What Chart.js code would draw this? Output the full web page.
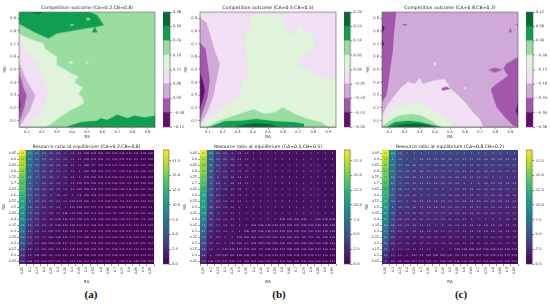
<!DOCTYPE html>
<html>
<head>
<meta charset="utf-8">
<script src="https://cdn.jsdelivr.net/npm/chart.js@4"></script>
<style>
  html, body { margin: 0; padding: 0; background: #fff; width: 550px; height: 305px; overflow: hidden; }
  canvas { position: absolute; filter: blur(0.35px); }
  .cap { position: absolute; top: 288px; font: bold 11px "Liberation Serif", serif; color: #111; transform: translateX(-50%); }
</style>
</head>
<body>
<div class="cap" style="left:91px">(a)</div>
<div class="cap" style="left:279px">(b)</div>
<div class="cap" style="left:461px">(c)</div>
<script>
const titlesTop = ['Competition outcome (CA=0.2,CB=0.8)', 'Competition outcome (CA=0.5,CB=0.5)', 'Competition outcome (CA=0.8,CB=0.2)'];
const titlesBottom = ['Resource ratio at equilibrium (CA=0.2,CB=0.8)', 'Resource ratio at equilibrium (CA=0.5,CB=0.5)', 'Resource ratio at equilibrium (CA=0.8,CB=0.2)'];
const axisTicks = [0.1, 0.2, 0.3, 0.4, 0.5, 0.6, 0.7, 0.8, 0.9];
const colsRA = ['0.05','0.1','0.15','0.2','0.25','0.3','0.35','0.4','0.45','0.5','0.55','0.6','0.65','0.7','0.75','0.8','0.85','0.9','0.95'];
const rowsRB = ['0.95','0.9','0.85','0.8','0.75','0.7','0.65','0.6','0.55','0.5','0.45','0.4','0.35','0.3','0.25','0.2','0.15','0.1','0.05'];

// PRGn-like bands, lowest level first
const bandColors = ['#650c70', '#a257ad', '#cfa9d7', '#f1dff3', '#e0f4dc', '#99dda1', '#109f50', '#056a30'];
const levelsA = [-0.12, -0.06, 0, 0.06, 0.12, 0.18, 0.24, 0.30, 0.36];
const levelsB = [-0.20, -0.15, -0.10, -0.05, 0, 0.05, 0.10, 0.15, 0.20];
const levelsC = [-0.36, -0.30, -0.24, -0.18, -0.12, -0.06, 0, 0.06, 0.12];
const heatTicks = [0, 2.5, 5, 7.5, 10, 12.5, 15, 17.5];
const heatMax = 19.3;

// contour regions: [band, outline in RA,RB], later ones paint over earlier ones
const contourA = [
  [5, [[.05,.05],[.05,.95],[.95,.95],[.95,.05]]],
  [6, [[.05,.95],[.05,.86],[.144,.796],[.244,.743],[.3,.782],[.433,.809],[.567,.835],[.611,.848],[.589,.887],[.567,.927],[.522,.95]]],
  [7, [[.12,.95],[.17,.935],[.22,.95]]],
  [6, [[.533,.79],[.551,.84],[.569,.79]]],
  [5, [[.385,.85],[.4,.858],[.415,.85],[.4,.84]]],
  [5, [[.49,.895],[.505,.91],[.525,.895],[.505,.882]]],
  [6, [[.36,.05],[.456,.087],[.567,.1],[.589,.12],[.633,.105],[.7,.147],[.767,.12],[.811,.139],[.878,.125],[.95,.139],[.95,.05]]],
  [4, [[.05,.78],[.144,.73],[.211,.704],[.222,.664],[.3,.599],[.3,.533],[.344,.507],[.4,.467],[.444,.446],[.416,.402],[.473,.357],[.444,.31],[.473,.271],[.478,.231],[.389,.179],[.322,.126],[.256,.069],[.222,.05],[.05,.05]]],
  [4, [[.375,.555],[.393,.568],[.41,.555],[.393,.542]]],
  [4, [[.49,.555],[.5,.565],[.51,.555],[.5,.545]]],
  [3, [[.05,.73],[.167,.546],[.211,.441],[.244,.336],[.222,.231],[.178,.139],[.089,.05],[.05,.05]]],
  [2, [[.05,.56],[.089,.44],[.156,.297],[.122,.179],[.078,.1],[.05,.05]]],
  [1, [[.05,.483],[.078,.362],[.1,.297],[.084,.205],[.067,.139],[.05,.09]]],
  [0, [[.05,.31],[.06,.23],[.05,.14]]]
];
const contourB = [
  [3, [[.05,.05],[.05,.95],[.95,.95],[.95,.05]]],
  [4, [[.05,.05],[.082,.087],[.148,.152],[.236,.23],[.313,.308],[.329,.413],[.368,.433],[.364,.569],[.346,.699],[.351,.777],[.39,.829],[.373,.907],[.423,.933],[.566,.933],[.6,.907],[.61,.842],[.636,.777],[.687,.79],[.709,.86],[.731,.79],[.775,.803],[.775,.855],[.797,.751],[.819,.686],[.72,.608],[.698,.556],[.72,.517],[.797,.478],[.874,.433],[.95,.418],[.95,.05]]],
  [5, [[.09,.05],[.17,.095],[.28,.14],[.39,.183],[.401,.191],[.478,.152],[.544,.165],[.599,.204],[.676,.152],[.764,.113],[.852,.087],[.9,.05]]],
  [6, [[.115,.05],[.214,.095],[.324,.1],[.423,.113],[.544,.095],[.676,.087],[.737,.075],[.74,.05]]],
  [7, [[.28,.05],[.346,.069],[.423,.08],[.522,.069],[.566,.05]]],
  [2, [[.05,.907],[.093,.868],[.116,.777],[.148,.647],[.181,.543],[.159,.413],[.137,.282],[.093,.152],[.06,.087],[.05,.05]]],
  [1, [[.05,.712],[.087,.66],[.104,.517],[.115,.413],[.1,.282],[.06,.139],[.05,.1]]],
  [0, [[.05,.478],[.071,.4],[.082,.334],[.065,.243],[.05,.19]]]
];
const contourC = [
  [2, [[.05,.05],[.05,.95],[.95,.95],[.95,.05]]],
  [1, [[.05,.95],[.144,.95],[.129,.781],[.122,.65],[.1,.466],[.089,.362],[.078,.296],[.05,.244]]],
  [0, [[.05,.85],[.068,.83],[.05,.78]]],
  [0, [[.05,.74],[.063,.7],[.05,.67]]],
  [1, [[.95,.597],[.874,.545],[.852,.506],[.885,.453],[.808,.388],[.77,.349],[.786,.283],[.808,.205],[.863,.126],[.919,.06],[.95,.05]]],
  [0, [[.95,.24],[.935,.18],[.95,.13]]],
  [1, [[.753,.498],[.797,.514],[.846,.498],[.797,.477]]],
  [1, [[.18,.851],[.2,.858],[.222,.851],[.2,.844]]],
  [1, [[.89,.79],[.9,.83],[.91,.79]]],
  [1, [[.925,.851],[.95,.855],[.95,.846]]],
  [3, [[.05,.14],[.089,.23],[.178,.362],[.222,.406],[.266,.388],[.3,.435],[.32,.388],[.387,.414],[.465,.427],[.505,.35],[.553,.3],[.609,.231],[.653,.165],[.697,.113],[.72,.05],[.05,.05]]],
  [1, [[.443,.354],[.475,.365],[.505,.35],[.45,.335]]],
  [3, [[.59,.354],[.6,.366],[.61,.354],[.6,.342]]],
  [3, [[.39,.545],[.4,.56],[.41,.545],[.4,.53]]],
  [4, [[.05,.09],[.11,.18],[.178,.218],[.288,.244],[.354,.205],[.443,.152],[.498,.087],[.53,.05],[.05,.05]]],
  [5, [[.05,.055],[.09,.087],[.155,.139],[.244,.152],[.31,.139],[.376,.1],[.432,.053],[.44,.05],[.05,.05]]],
  [6, [[.08,.05],[.133,.087],[.222,.1],[.31,.087],[.4,.06],[.454,.05]]],
  [7, [[.1,.05],[.177,.07],[.266,.08],[.354,.065],[.41,.05]]]
];

// heatmap values, top row (RB 0.95) first
const heatA = [
  [19,8.3,5.5,3.9,3.1,2.5,2,1.5,1.2,.99,.75,.61,.51,.43,.38,.34,.31,.28,.26],
  [17,7.5,5.1,3.7,2.9,2.3,1.9,1.4,1.1,.93,.72,.59,.5,.42,.37,.33,.3,.27,.25],
  [17,7.3,4.8,3.5,2.8,2.2,1.8,1.3,1.1,.88,.7,.57,.48,.41,.36,.32,.29,.27,.25],
  [16,7,4.5,3.3,2.6,2.1,1.7,1.3,1,.84,.67,.55,.47,.4,.35,.32,.29,.26,.24],
  [15,6.6,4.3,3.1,2.5,2,1.6,1.2,1,.78,.63,.52,.45,.38,.34,.31,.28,.26,.23],
  [14,6,4,2.9,2.3,1.8,1.4,1.1,.95,.73,.59,.49,.42,.36,.33,.3,.27,.25,.23],
  [14,5.8,3.8,2.8,2.2,1.7,1.3,1.1,.87,.69,.56,.47,.41,.35,.32,.29,.26,.24,.22],
  [13,5.4,3.5,2.6,2,1.6,1.2,1,.8,.65,.53,.45,.39,.34,.31,.28,.25,.23,.21],
  [12,5,3.3,2.4,1.9,1.4,1.1,.93,.75,.61,.5,.43,.37,.33,.3,.27,.25,.23,.21],
  [11,4.6,3.1,2.2,1.7,1.3,1,.87,.69,.57,.47,.41,.36,.32,.29,.26,.24,.22,.2],
  [10,4.3,2.8,2,1.5,1.1,.96,.78,.63,.52,.44,.38,.33,.3,.27,.25,.23,.21,.19],
  [9.2,3.9,2.5,1.8,1.3,.99,.83,.71,.58,.48,.41,.36,.32,.28,.26,.24,.22,.2,.18],
  [8.2,3.5,2.2,1.6,1.1,.88,.73,.62,.52,.44,.38,.33,.3,.27,.24,.22,.21,.19,.18],
  [7.2,3.1,1.9,1.3,.97,.77,.64,.55,.46,.4,.35,.31,.28,.25,.23,.21,.19,.18,.17],
  [6.2,2.6,1.6,1.1,.81,.66,.55,.47,.41,.36,.31,.28,.25,.23,.21,.19,.18,.17,.16],
  [5.2,2.2,1.3,.92,.69,.56,.47,.41,.36,.31,.28,.25,.23,.21,.19,.18,.17,.15,.14],
  [4.3,1.8,1.1,.8,.62,.5,.42,.36,.31,.28,.25,.22,.2,.19,.17,.16,.15,.14,.13],
  [3.3,1.2,.85,.64,.5,.41,.34,.3,.26,.23,.21,.19,.17,.16,.15,.14,.13,.12,.11],
  [2.2,.66,.44,.33,.27,.23,.2,.17,.15,.14,.13,.12,.11,.1,.09,.09,.08,.08,.07]
];
const heatB = [
  [19,6.9,3.6,2.6,2,1.5,1.2,1,1,1,1,1,1,1,1,1,1,1,1],
  [17,6.5,3.5,2.5,1.9,1.5,1.2,1,1,1,1,1,1,1,1,1,1,1,1],
  [16,6.1,3.3,2.4,1.8,1.4,1.1,1,1,1,1,1,1,1,1,1,1,1,1],
  [16,5.7,3.1,2.3,1.7,1.4,1.1,1,1,1,1,1,1,1,1,1,1,1,1],
  [15,5.3,3,2.2,1.6,1.3,1.1,1,1,1,1,1,1,1,1,1,1,1,1],
  [14,5,2.8,2,1.6,1.3,1.1,1,1,1,1,1,1,1,1,1,1,1,1],
  [13,4.7,2.7,1.9,1.5,1.2,1,1,1,1,1,1,1,1,1,1,1,1,1],
  [12,4.4,2.5,1.7,1.4,1.1,1,1,1,1,1,1,1,1,1,1,1,1,1],
  [11,4,2.4,1.6,1.3,1.1,1,1,1,1,1,1,1,1,1,1,1,1,1],
  [11,3.8,2.2,1.5,1.2,1,1,1,1,1,1,1,1,1,1,1,1,1,1],
  [9.9,3.5,2,1.4,1.1,1,1,1,1,1,1,1,1,1,1,1,1,1,1],
  [9,3.1,1.9,1.3,1.1,1,1,1,1,1,1,.98,.98,.98,.98,1,.98,.98,.98],
  [7.8,2.7,1.7,1.2,1.1,1,1,.99,.98,.98,.97,.97,.97,.97,.96,.96,.96,.96,.96],
  [6.7,2.3,1.5,1.1,1,1,.98,.97,.96,.96,.95,.95,.95,.94,.94,.94,.94,.93,.93],
  [5.7,2,1.3,1,1,.99,.95,.94,.93,.92,.92,.91,.91,.91,.9,.9,.9,.89,.89],
  [4.8,1.7,1.1,1,.95,.91,.9,.88,.87,.86,.85,.85,.84,.84,.83,.83,.82,.82,.81],
  [3.8,1.3,1,.87,.79,.75,.73,.71,.7,.69,.68,.67,.66,.66,.65,.65,.64,.63,.63],
  [2.9,1,.78,.67,.6,.56,.53,.51,.5,.49,.48,.47,.46,.46,.45,.45,.44,.43,.43],
  [1.9,.56,.44,.37,.33,.3,.29,.27,.26,.25,.25,.24,.23,.23,.22,.22,.22,.21,.21]
];
const heatC = [
  [19,8.8,4.8,4,4,4,4,4,4,4,4,4,4,4,4,4,4,4,4],
  [17,8,4.6,4,4,3.9,3.9,3.8,3.8,3.8,3.7,3.7,3.7,3.6,3.6,3.6,3.6,3.5,3.5],
  [16,7.5,4.4,3.9,3.8,3.7,3.7,3.6,3.6,3.5,3.5,3.5,3.4,3.4,3.4,3.4,3.3,3.3,3.3],
  [15,7.2,4.2,3.8,3.7,3.6,3.5,3.5,3.4,3.4,3.3,3.3,3.3,3.2,3.2,3.2,3.2,3.1,3.1],
  [15,6.8,4.1,3.6,3.5,3.4,3.4,3.3,3.3,3.2,3.2,3.2,3.1,3.1,3.1,3,3,3,3],
  [14,6.4,4,3.5,3.4,3.3,3.3,3.2,3.2,3.1,3.1,3,3,3,2.9,2.9,2.9,2.9,2.8],
  [13,6,3.8,3.4,3.3,3.2,3.1,3.1,3,3,2.9,2.9,2.9,2.8,2.8,2.8,2.8,2.7,2.7],
  [13,5.7,3.6,3.2,3.1,3,3,2.9,2.9,2.8,2.8,2.7,2.7,2.7,2.7,2.6,2.6,2.6,2.6],
  [12,5.3,3.4,3,2.9,2.9,2.8,2.8,2.7,2.7,2.6,2.6,2.6,2.5,2.5,2.5,2.5,2.4,2.4],
  [11,5,3.2,2.9,2.8,2.7,2.6,2.6,2.5,2.5,2.5,2.4,2.4,2.4,2.3,2.3,2.3,2.3,2.3],
  [10,4.6,3,2.7,2.6,2.5,2.5,2.4,2.4,2.3,2.3,2.3,2.2,2.2,2.2,2.2,2.1,2.1,2.1],
  [9.2,4.2,2.8,2.5,2.4,2.3,2.3,2.2,2.2,2.1,2.1,2.1,2,2,2,2,2,1.9,1.9],
  [8.2,3.8,2.5,2.3,2.2,2.1,2.1,2,2,1.9,1.9,1.9,1.9,1.8,1.8,1.8,1.8,1.7,1.7],
  [7.2,3.4,2.3,2,1.9,1.9,1.8,1.8,1.7,1.7,1.7,1.7,1.6,1.6,1.6,1.6,1.6,1.5,1.5],
  [6.2,2.9,2,1.8,1.7,1.6,1.6,1.5,1.5,1.5,1.4,1.4,1.4,1.4,1.4,1.3,1.3,1.3,1.3],
  [5.2,2.5,1.7,1.5,1.4,1.4,1.3,1.3,1.3,1.2,1.2,1.2,1.2,1.1,1.1,1.1,1.1,1.1,1.1],
  [4.2,2,1.4,1.2,1.1,1.1,1.1,1,1,1,.99,.98,.98,.97,.96,.96,.95,.95,.94],
  [3.2,1.4,1.1,1,.94,.9,.87,.85,.83,.81,.8,.79,.78,.77,.76,.75,.75,.74,.73],
  [2,.8,.6,.52,.47,.44,.42,.4,.39,.37,.36,.35,.35,.34,.33,.33,.32,.32,.31]
];

const viridis = ['#440154', '#482878', '#3b528b', '#2c728e', '#21918c', '#28ae80', '#5ec962', '#addc30', '#fde725'];
const FONT = 'DejaVu Sans';
const INK = '#333';

function hexRgb(h) {
  return [1, 3, 5].map(i => parseInt(h.substr(i, 2), 16));
}

function heatColor(v) {
  const t = Math.min(v / heatMax, 1) * (viridis.length - 1);
  const i = Math.min(Math.floor(t), viridis.length - 2);
  const a = hexRgb(viridis[i]), b = hexRgb(viridis[i + 1]);
  const c = a.map((x, k) => Math.round(x + (b[k] - x) * (t - i)));
  return `rgb(${c[0]},${c[1]},${c[2]})`;
}

function addCanvas(left, top, w, h) {
  const c = document.createElement('canvas');
  c.width = w;
  c.height = h;
  c.style.left = left + 'px';
  c.style.top = top + 'px';
  c.style.width = w + 'px';
  c.style.height = h + 'px';
  document.body.appendChild(c);
  return c.getContext('2d');
}

// pin the axis box so the plot area lands where it should
function pin(size) {
  return s => {
    if (s.isHorizontal()) s.height = size; else s.width = size;
    s.paddingLeft = s.paddingRight = s.paddingTop = s.paddingBottom = 0;
  };
}

const frame = {
  id: 'frame',
  afterDatasetsDraw(chart) {
    const a = chart.chartArea, ctx = chart.ctx;
    ctx.save();
    ctx.strokeStyle = '#555';
    ctx.lineWidth = 0.6;
    ctx.strokeRect(a.left, a.top, a.right - a.left, a.bottom - a.top);
    ctx.restore();
  }
};

const cellText = {
  id: 'cellText',
  afterDatasetsDraw(chart) {
    const ctx = chart.ctx;
    ctx.save();
    ctx.font = '2.3px "' + FONT + '"';
    ctx.textAlign = 'center';
    ctx.textBaseline = 'middle';
    chart.data.datasets.forEach((ds, i) => {
      chart.getDatasetMeta(i).data.forEach((bar, j) => {
        const v = ds.cellValues[j];
        ctx.fillStyle = v > 12 ? 'rgba(30,30,30,.6)' : 'rgba(255,255,255,.65)';
        ctx.fillText(String(v), bar.x, bar.y + bar.height / 2);
      });
    });
    ctx.restore();
  }
};

function titleOpts(text, size, th, topPad) {
  return {
    display: true, text, color: '#222', fullSize: false,
    font: { family: FONT, size, weight: 'normal', lineHeight: 1 },
    padding: { top: topPad, bottom: th - size - topPad }
  };
}

function tickStyle(size) {
  return { color: INK, font: { family: FONT, size }, padding: 1, autoSkip: false };
}

function axisGrid() {
  return { drawOnChartArea: false, drawTicks: true, tickLength: 2, color: INK, lineWidth: 0.5 };
}

function drawContour(p, title, regions) {
  const yW = 16, xH = 12, th = 12;
  const ctx = addCanvas(p.l - yW, p.t - th, yW + p.w + 2, th + p.h + xH);
  const datasets = regions.slice().reverse().map(([band, pts]) => ({
    data: pts.map(([x, y]) => ({ x, y })),
    showLine: true, fill: 'shape', backgroundColor: bandColors[band],
    borderWidth: 0, pointRadius: 0, tension: 0
  }));
  const ax = (min, max) => ({
    type: 'linear', min, max,
    afterBuildTicks: s => { s.ticks = axisTicks.map(value => ({ value })); },
    grid: axisGrid(), border: { color: '#555', width: 0.5 }
  });
  new Chart(ctx, {
    type: 'scatter',
    data: { datasets },
    options: {
      responsive: false, animation: false, events: [],
      layout: { padding: { right: 2 } },
      plugins: { legend: { display: false }, tooltip: { enabled: false }, title: titleOpts(title, 4.6, th, 5.5) },
      scales: {
        x: { ...ax(0.05, 0.95), afterFit: pin(xH),
          ticks: { ...tickStyle(3.6), callback: v => v.toFixed(1), maxRotation: 0 },
          title: { display: true, text: 'RA', color: INK, font: { family: FONT, size: 4 }, padding: { top: 1, bottom: 0 } } },
        y: { ...ax(0.05, 0.95), afterFit: pin(yW),
          ticks: { ...tickStyle(3.6), callback: v => v.toFixed(1) },
          title: { display: true, text: 'RB', color: INK, font: { family: FONT, size: 4 }, padding: { top: 0, bottom: 1 } } }
      }
    },
    plugins: [frame]
  });
}

function drawHeat(p, title, values) {
  const yW = 17, xH = 20, th = 9;
  const ctx = addCanvas(p.l - yW, p.t - th, yW + p.w + 2, th + p.h + xH);
  // bottom row stacks first
  const datasets = values.slice().reverse().map(row => ({
    data: row.map(() => 1),
    cellValues: row,
    backgroundColor: row.map(heatColor),
    borderWidth: 0, barPercentage: 1, categoryPercentage: 1,
    yAxisID: 'y'
  }));
  new Chart(ctx, {
    type: 'bar',
    data: { labels: colsRA, datasets },
    options: {
      responsive: false, animation: false, events: [],
      layout: { padding: { right: 2 } },
      plugins: { legend: { display: false }, tooltip: { enabled: false }, title: titleOpts(title, 4.6, th, 3) },
      scales: {
        x: { stacked: true, afterFit: pin(xH), grid: axisGrid(), border: { display: false },
          ticks: { ...tickStyle(3.3), minRotation: 90, maxRotation: 90 },
          title: { display: true, text: 'RA', color: INK, font: { family: FONT, size: 4 }, padding: { top: 0, bottom: 0 } } },
        y: { stacked: true, display: false, min: 0, max: rowsRB.length },
        rb: { type: 'category', labels: rowsRB, position: 'left', offset: true, afterFit: pin(yW),
          grid: axisGrid(), border: { display: false },
          ticks: tickStyle(3.3),
          title: { display: true, text: 'RB', color: INK, font: { family: FONT, size: 4 }, padding: { top: 0, bottom: 1 } } }
      }
    },
    plugins: [cellText]
  });
}

function drawBar(p, datasets, min, max, ticks, fmt) {
  const pad = 3, yW = 18;
  const ctx = addCanvas(p.l, p.t - pad, p.w + yW, p.h + pad * 2);
  new Chart(ctx, {
    type: 'bar',
    data: { labels: [''], datasets },
    options: {
      responsive: false, animation: false, events: [],
      layout: { padding: { top: pad, bottom: pad } },
      plugins: { legend: { display: false }, tooltip: { enabled: false } },
      scales: {
        x: { display: false },
        y: { position: 'right', min, max, afterFit: pin(yW),
          afterBuildTicks: s => { s.ticks = ticks.map(value => ({ value })); },
          grid: axisGrid(), border: { display: false },
          ticks: { ...tickStyle(3.6), callback: fmt } }
      }
    },
    plugins: [frame]
  });
}

function contourBar(p, levels) {
  const datasets = bandColors.map((color, i) => ({
    data: [[levels[i], levels[i + 1]]],
    backgroundColor: color, borderWidth: 0, grouped: false, barPercentage: 1, categoryPercentage: 1
  }));
  const fmt = v => (v < 0 ? '\u2212' : '') + Math.abs(v).toFixed(2);
  drawBar(p, datasets, levels[0], levels[levels.length - 1], levels, fmt);
}

function heatBar(p) {
  const datasets = [{
    data: [[0, heatMax]],
    backgroundColor: c => {
      const a = c.chart.chartArea;
      if (!a) return viridis[0];
      const g = c.chart.ctx.createLinearGradient(0, a.bottom, 0, a.top);
      viridis.forEach((col, i) => g.addColorStop(i / (viridis.length - 1), col));
      return g;
    },
    borderWidth: 0, barPercentage: 1, categoryPercentage: 1
  }];
  drawBar(p, datasets, 0, heatMax, heatTicks, v => v.toFixed(1));
}

const contourPos = [
  { l: 19, t: 12, w: 135.5, h: 114.5 },
  { l: 200, t: 12, w: 136, h: 114.5 },
  { l: 382, t: 12, w: 136, h: 114.5 }
];
const heatPos = [
  { l: 18.5, t: 149.5, w: 135.5, h: 114.5 },
  { l: 199.5, t: 149.5, w: 136, h: 114.5 },
  { l: 381.5, t: 149.5, w: 136, h: 114.5 }
];
const barTop = [
  { l: 162.5, t: 12, w: 7, h: 114.5 },
  { l: 344, t: 12, w: 6.5, h: 114.5 },
  { l: 526, t: 12, w: 7, h: 114.5 }
];
const barBottom = [
  { l: 162.5, t: 149.5, w: 6, h: 114.5 },
  { l: 344, t: 149.5, w: 6.5, h: 114.5 },
  { l: 526, t: 149.5, w: 6.5, h: 114.5 }
];

[contourA, contourB, contourC].forEach((r, i) => drawContour(contourPos[i], titlesTop[i], r));
[levelsA, levelsB, levelsC].forEach((l, i) => contourBar(barTop[i], l));
[heatA, heatB, heatC].forEach((v, i) => drawHeat(heatPos[i], titlesBottom[i], v));
barBottom.forEach(heatBar);
</script>
</body>
</html>
